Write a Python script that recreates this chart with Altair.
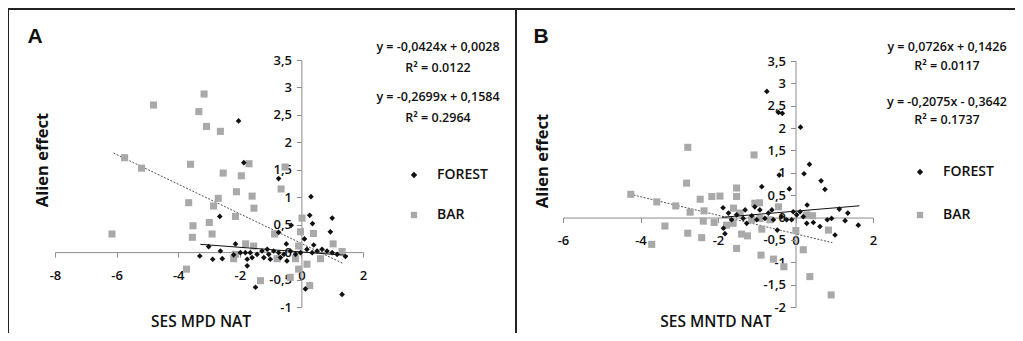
import altair as alt
import pandas as pd

W, H = 1007, 325

# ---------------- Panel A data (SES MPD NAT) ----------------
a_forest_x = [-2.04, -1.87, -0.74, 0.31, -2.65, -0.33, 0.27, 0.36, 1.00, 0.94, -0.74,
              -0.49, 0.40, -3.01, -3.30, -2.88, -2.57, -2.63, -2.14, -1.98, -1.82, -1.66,
              -1.76, -1.60, -1.44, -1.28, -1.11, -1.06, -0.90, -0.74, -0.57, -0.36, -0.19,
              -0.03, 0.18, 0.35, 0.51, 0.67, 0.83, 1.00, 1.16, 1.43, -1.76, -1.49, -1.01,
              -0.68, 0.13, 1.32, -2.20, -0.47, -1.22, 0.10]
a_forest_y = [2.39, 1.63, 1.34, 1.01, 0.65, 0.49, 0.67, 0.52, 0.62, 0.37, 0.36,
              0.15, 0.13, 0.10, -0.07, -0.13, -0.12, 0.02, 0.15, -0.01, -0.01, -0.01,
              -0.13, -0.10, -0.04, 0.02, 0.05, -0.04, 0.02, -0.01, -0.04, 0.02, -0.04,
              -0.01, 0.05, -0.01, 0.02, 0.05, 0.02, -0.01, -0.04, -0.08, -0.25, -0.64, -0.13,
              -0.10, -0.67, -0.77, -0.05, -0.16, -0.10, 0.24]
a_bar_x = [-4.80, -3.16, -3.33, -3.08, -2.63, -5.74, -5.19, -3.60, -2.54, -1.70, -1.95,
           -2.11, -1.60, -0.66, -0.53, -3.66, -2.70, -2.85, -1.54, -6.15, -3.52, -3.54,
           -2.99, -2.90, -2.14, -0.87, 0.02, -0.03, 0.39, 1.03, -3.73, -1.81, -1.55,
           -2.14, -2.20, 1.32, -0.79, -0.19, 0.18, 0.62, -0.09, -0.36, -1.33, 0.27, -0.09]
a_bar_y = [2.68, 2.88, 2.56, 2.29, 2.20, 1.72, 1.53, 1.60, 1.44, 1.61, 1.39,
           1.10, 1.02, 1.15, 1.55, 0.90, 0.98, 0.84, 0.80, 0.33, 0.48, 0.27,
           0.54, 0.33, 0.65, 0.33, 0.62, 0.37, 0.34, 0.15, -0.31, 0.15, 0.11,
           -0.04, -0.12, 0.01, -0.12, -0.12, -0.22, -0.12, -0.31, -0.46, -0.52, -0.61, 0.11]

# ---------------- Panel B data (SES MNTD NAT) ----------------
b_forest_x = [-0.74, -0.44, -0.34, 0.13, -0.42, 0.22, 0.36, 0.66, 0.76, -0.87, -0.16,
              -1.87, -1.82, 0.30, 1.13, 1.35, 1.62, 1.28, 1.02, 0.82, 0.93, 0.63, 0.46,
              0.20, 0.12, 0.03, -0.10, -0.23, -0.36, -0.47, -0.57, -0.70, -0.79, -0.92,
              -1.00, -1.13, -1.26, -1.35, -1.52, -1.65, -1.73, -1.30, -1.05, -0.61, -0.06,
              0.29, -1.86]
b_forest_y = [2.82, 2.35, 2.33, 2.02, 0.95, 0.98, 1.19, 0.82, 0.63, 0.69, 0.64,
              0.22, -0.36, 0.28, 0.19, 0.10, -0.17, -0.07, -0.39, -0.05, -0.02, -0.20, -0.11,
              0.02, 0.13, 0.06, -0.05, -0.05, 0.02, -0.28, -0.05, 0.10, -0.02, 0.17,
              -0.05, 0.04, -0.13, -0.02, 0.06, -0.05, 0.10, 0.17, 0.24, 0.17, 0.13,
              -0.13, -0.24]
b_bar_x = [-2.78, -1.07, -2.81, -1.52, -1.52, -4.25, -3.58, -3.09, -2.72, -2.46, -2.16,
           -1.95, -2.36, -2.38, -2.10, -3.37, -2.78, -2.42, -3.71, -1.52, -0.93, -0.44,
           -1.78, -1.61, -1.39, -1.24, -1.13, -0.87, -0.89, -0.57, -0.30, 0.01, 0.20,
           0.37, 0.92, 0.44, 0.29, 0.85, -1.05, -1.60, -1.43, -0.92, -0.66]
b_bar_y = [1.57, 1.40, 0.77, 0.66, 0.47, 0.52, 0.35, 0.26, 0.12, 0.41, 0.47,
           0.48, 0.15, -0.08, -0.11, -0.19, -0.35, -0.45, -0.60, -0.69, 0.33, 0.24,
           -0.17, -0.13, -0.37, -0.41, -0.05, -0.26, -0.84, -0.93, -1.10, -0.29, -0.72,
           -1.32, -1.73, 0.04, 0.06, -0.28, 0.32, 0.21, 0.10, -0.02, -0.05]

# trendlines: [slope, intercept], x extent
a_forest_fit = [-0.0424, 0.0028]; a_forest_ext = [-3.28, 1.5]
a_bar_fit = [-0.2699, 0.1584];    a_bar_ext = [-6.1, 1.35]
b_forest_fit = [0.0726, 0.1426];  b_forest_ext = [-1.9, 1.65]
b_bar_fit = [-0.2075, -0.3642];   b_bar_ext = [-4.27, 0.95]

a_eq = ["y = -0,0424x + 0,0028", "R\u00b2 = 0.0122", "y = -0,2699x + 0,1584", "R\u00b2 = 0.2964"]
b_eq = ["y = 0,0726x + 0,1426", "R\u00b2 = 0.0117", "y = -0,2075x - 0,3642", "R\u00b2 = 0.1737"]

a_xticks = [-8, -6, -4, -2, 0, 2]
a_yticks = [-1, -0.5, 0, 0.5, 1, 1.5, 2, 2.5, 3, 3.5]
b_xticks = [-6, -4, -2, 0, 2]
b_yticks = [-2, -1.5, -1, -0.5, 0, 0.5, 1, 1.5, 2, 2.5, 3, 3.5]

groups = ["FOREST", "BAR"]
FONT = "Open Sans"
one = pd.DataFrame({"k": [0]})


def pix(v, dom, rng):
    return rng[0] + (v - dom[0]) / (dom[1] - dom[0]) * (rng[1] - rng[0])


def fit_df(fit, ext):
    return pd.DataFrame({"x": ext, "y": [fit[0] * v + fit[1] for v in ext]})


def panel(fx, fy, bx, by, ffit, fext, bfit, bext, xdom, ydom, xrng, yrng,
          xticks, yticks, lx, ly, rowpad):
    x0 = pix(0, xdom, xrng)
    y0 = pix(0, ydom, yrng)
    xs = alt.Scale(domain=xdom, range=xrng, nice=False, zero=False)
    ys = alt.Scale(domain=ydom, range=yrng, nice=False, zero=False)
    common = dict(grid=False, title=None, domainColor="#8c8c8c", tickColor="#8c8c8c",
                  tickSize=5, labelFont=FONT, labelFontSize=13, labelFontWeight=600,
                  labelColor="#111", labelOverlap=False, labelFlush=False,
                  labelExpr="replace(toString(datum.value), '.', ',')")
    xax = alt.Axis(orient="bottom", offset=y0 - H, values=xticks, labelPadding=12, **common)
    yax = alt.Axis(orient="left", offset=-x0, values=yticks, labelPadding=5, **common)
    X = alt.X("x:Q", scale=xs, axis=xax)
    Y = alt.Y("y:Q", scale=ys, axis=yax)

    df = pd.concat([
        pd.DataFrame({"x": bx, "y": by, "group": "BAR"}),
        pd.DataFrame({"x": fx, "y": fy, "group": "FOREST"}),
    ], ignore_index=True)
    leg = alt.Legend(orient="none", legendX=lx, legendY=ly, title=None, labelFont=FONT,
                     labelFontSize=14, labelFontWeight=600, labelColor="#111",
                     symbolSize=40, rowPadding=rowpad, labelOffset=16, padding=0)
    pts = alt.Chart(df).mark_point(filled=True, opacity=1, strokeWidth=0).encode(
        x=X, y=Y,
        color=alt.Color("group:N", scale=alt.Scale(domain=groups, range=["#111111", "#a9a9a9"]), legend=leg),
        shape=alt.Shape("group:N", scale=alt.Scale(domain=groups, range=["diamond", "square"]), legend=leg),
        size=alt.Size("group:N", scale=alt.Scale(domain=groups, range=[32, 50]), legend=None),
    )
    fline = alt.Chart(fit_df(ffit, fext)).mark_line(color="#111", strokeWidth=1).encode(x=X, y=Y)
    bline = alt.Chart(fit_df(bfit, bext)).mark_line(color="#555", strokeWidth=1, strokeDash=[2, 1.5]).encode(x=X, y=Y)
    return alt.layer(bline, pts, fline)


def txt(s, x, y, size, weight=600, font=FONT, angle=0, align="center"):
    props = dict(text=s, fontSize=size, fontWeight=weight, font=font, align=align,
                 baseline="middle", color="#111")
    if angle:
        props["angle"] = angle
    return alt.Chart(one).mark_text(**props).encode(x=alt.value(x), y=alt.value(y))


pA = panel(a_forest_x, a_forest_y, a_bar_x, a_bar_y, a_forest_fit, a_forest_ext,
           a_bar_fit, a_bar_ext, [-8, 2], [-1, 3.5], [47, 355], [299, 52],
           a_xticks, a_yticks, 399, 160, 26)
pB = panel(b_forest_x, b_forest_y, b_bar_x, b_bar_y, b_forest_fit, b_forest_ext,
           b_bar_fit, b_bar_ext, [-6, 2], [-2, 3.5], [555, 865], [299, 53],
           b_xticks, b_yticks, 905, 157, 29)

texts = [
    txt("A", 27, 29, 21, "bold", "Liberation Sans"),
    txt("B", 533, 29, 21, "bold", "Liberation Sans"),
    txt("Alien effect", 35, 152, 16.5, "bold", angle=270),
    txt("Alien effect", 535, 153, 16.5, "bold", angle=270),
    txt("SES MPD NAT", 193, 314, 15.5),
    txt("SES MNTD NAT", 708, 314, 15.5),
    txt(a_eq[0], 430, 39, 12.5), txt(a_eq[1], 430, 60, 12.5),
    txt(a_eq[2], 430, 89, 12.5), txt(a_eq[3], 430, 110, 12.5),
    txt(b_eq[0], 939, 39, 12.5), txt(b_eq[1], 939, 58, 12.5),
    txt(b_eq[2], 939, 94, 12.5), txt(b_eq[3], 939, 112, 12.5),
]

borders = [
    alt.Chart(one).mark_rule(color="#222", strokeWidth=2).encode(x=alt.value(0), x2=alt.value(W), y=alt.value(1)),
    alt.Chart(one).mark_rule(color="#222", strokeWidth=2).encode(x=alt.value(0), y=alt.value(0), y2=alt.value(H)),
    alt.Chart(one).mark_rule(color="#222", strokeWidth=2).encode(x=alt.value(508), y=alt.value(0), y2=alt.value(H)),
]

chart = alt.layer(pA, pB, *texts, *borders).resolve_scale(
    x="independent", y="independent"
).resolve_legend(color="independent", shape="independent").properties(
    width=W, height=H, autosize=alt.AutoSizeParams(type="none"), padding=0,
    background="white"
).configure_view(strokeWidth=0)

chart.save("out.html", embed_options={"renderer": "svg", "actions": False})
